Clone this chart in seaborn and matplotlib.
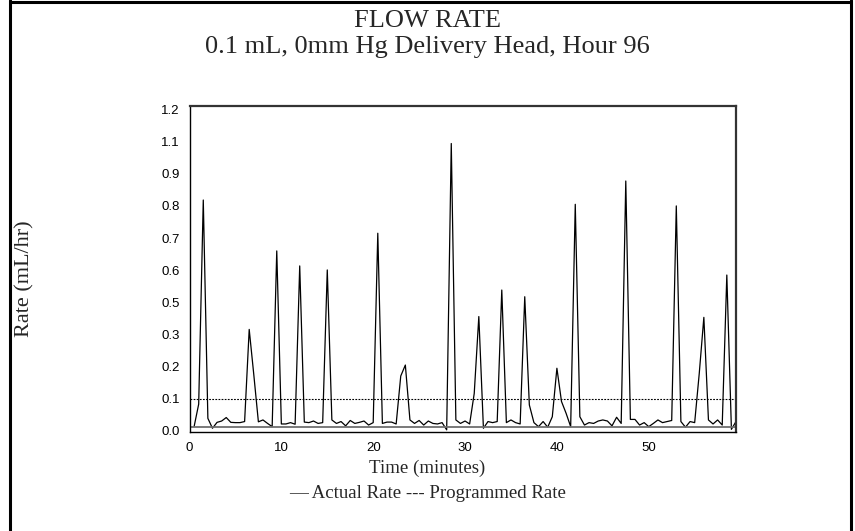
import numpy as np
import pandas as pd
import matplotlib
matplotlib.use("Agg")
import matplotlib.pyplot as plt
from matplotlib.lines import Line2D
import seaborn as sns

# ---- data ----
time_min = [0.5, 1.0, 1.5, 2.0, 2.5, 3.0, 3.5, 4.0, 4.5, 5.0, 5.5, 6.0, 6.5, 7.0, 7.5, 8.0,
            8.5, 9.0, 9.5, 10.0, 10.5, 11.0, 11.5, 12.0, 12.5, 13.0, 13.5, 14.0, 14.5, 15.0,
            15.5, 16.0, 16.5, 17.0, 17.5, 18.0, 18.5, 19.0, 19.5, 20.0, 20.5, 21.0, 21.5, 22.0,
            22.5, 23.0, 23.5, 24.0, 24.5, 25.0, 25.5, 26.0, 26.5, 27.0, 27.5, 28.0, 28.5, 29.0,
            29.5, 30.0, 30.5, 31.0, 31.5, 32.0, 32.5, 33.0, 33.5, 34.0, 34.5, 35.0, 35.5, 36.0,
            36.5, 37.0, 37.5, 38.0, 38.5, 39.0, 39.5, 40.0, 40.5, 41.0, 41.5, 42.0, 42.5, 43.0,
            43.5, 44.0, 44.5, 45.0, 45.5, 46.0, 46.5, 47.0, 47.5, 48.0, 48.5, 49.0, 49.5, 50.0,
            50.5, 51.0, 51.5, 52.0, 52.5, 53.0, 53.5, 54.0, 54.5, 55.0, 55.5, 56.0, 56.5, 57.0,
            57.5, 58.0, 58.5, 59.0, 59.5]
actual_rate = [0.016, 0.100, 0.862, 0.047, 0.010, 0.032, 0.037, 0.050, 0.032, 0.031,
               0.031, 0.035, 0.379, 0.210, 0.034, 0.041, 0.028, 0.016, 0.672, 0.026,
               0.026, 0.031, 0.025, 0.616, 0.033, 0.031, 0.037, 0.028, 0.031, 0.601,
               0.041, 0.028, 0.035, 0.019, 0.039, 0.028, 0.032, 0.037, 0.022, 0.031,
               0.738, 0.028, 0.033, 0.033, 0.026, 0.205, 0.246, 0.041, 0.028, 0.039,
               0.022, 0.037, 0.028, 0.026, 0.031, 0.004, 1.073, 0.041, 0.028, 0.037,
               0.026, 0.140, 0.427, 0.010, 0.035, 0.031, 0.035, 0.526, 0.031, 0.041,
               0.031, 0.026, 0.501, 0.097, 0.031, 0.016, 0.035, 0.014, 0.053, 0.234,
               0.110, 0.066, 0.016, 0.846, 0.053, 0.022, 0.031, 0.028, 0.037, 0.041,
               0.037, 0.019, 0.051, 0.028, 0.933, 0.043, 0.043, 0.022, 0.031, 0.016,
               0.028, 0.041, 0.031, 0.035, 0.039, 0.840, 0.035, 0.014, 0.035, 0.031,
               0.215, 0.424, 0.041, 0.026, 0.041, 0.022, 0.582, 0.006, 0.035]
programmed_rate = 0.12
baseline_level = 0.015
x_tick_values = [0, 5, 10, 15, 20, 25, 30, 35, 40, 45, 50, 55]
x_tick_labels = ["0", "", "10", "", "20", "", "30", "", "40", "", "50", ""]
y_tick_labels = ["0.0", "0.1", "0.2", "0.3", "0.5", "0.6", "0.7", "0.8", "0.9", "1.1", "1.2"]

title_line1 = "FLOW RATE"
title_line2 = "0.1 mL, 0mm Hg Delivery Head, Hour 96"
x_label = "Time (minutes)"
y_label = "Rate (mL/hr)"
legend_text = "\u2014 Actual Rate --- Programmed Rate"

df = pd.DataFrame({"time": time_min, "rate": actual_rate})

sns.set_style("white")
plt.rcParams["font.family"] = ["Liberation Sans", "DejaVu Sans"]

W, H = 855, 531
fig = plt.figure(figsize=(W / 100, H / 100), dpi=100)
fig.patch.set_facecolor("white")
ax = fig.add_axes([189.5 / W, 1 - 432 / H, (736 - 189.5) / W, (432 - 106) / H])

sns.lineplot(data=df, x="time", y="rate", ax=ax, color="black", linewidth=0.9)
ax.axhline(programmed_rate, color="black", linewidth=0.8, linestyle=(0, (1.6, 1.2)))
ax.axhline(baseline_level, color="#6e6e6e", linewidth=1.3)

ax.set_xlim(0, 59.5)
ax.set_ylim(-0.004, 1.213)
ax.set_xticks(x_tick_values)
ax.set_xticklabels(x_tick_labels)
ax.set_yticks(np.linspace(0, 1.2, len(y_tick_labels)))
ax.set_yticklabels(y_tick_labels)
ax.tick_params(axis="x", direction="in", length=4, width=0.8, pad=7, labelsize=9.5, colors="black")
ax.tick_params(axis="y", direction="out", length=4, width=0.8, pad=3, labelsize=9.5, colors="black")
ax.set_xlabel("")
ax.set_ylabel("")
for side in ["left", "bottom"]:
    ax.spines[side].set_color("black")
    ax.spines[side].set_linewidth(1.0)
for side in ["top", "right"]:
    ax.spines[side].set_visible(True)
    ax.spines[side].set_color("#333333")
    ax.spines[side].set_linewidth(1.6)
ax.grid(False)

serif = ["Liberation Serif", "DejaVu Serif"]
fig.text(0.5, 1 - 21 / H, title_line1, ha="center", va="center", fontsize=19, family=serif)
fig.text(0.5, 1 - 47 / H, title_line2, ha="center", va="center", fontsize=19, family=serif)
fig.text(0.5, 1 - 468 / H, x_label, ha="center", va="center", fontsize=13.6, family=serif)
fig.text(0.5, 1 - 494 / H, legend_text, ha="center", va="center", fontsize=13.6, family=serif)
fig.text(25 / W, 1 - 279 / H, y_label, ha="center", va="center", rotation=90, fontsize=16, family=serif)

# outer frame (left, top, right)
lw = 2.2
fig.add_artist(Line2D([9.5 / W, 9.5 / W], [0, 1], transform=fig.transFigure, color="black", lw=lw))
fig.add_artist(Line2D([9.5 / W, 851 / W], [1 - 1.5 / H, 1 - 1.5 / H], transform=fig.transFigure, color="black", lw=lw))
fig.add_artist(Line2D([851 / W, 851 / W], [0, 1], transform=fig.transFigure, color="black", lw=lw))

fig.savefig("out.png", dpi=100)
